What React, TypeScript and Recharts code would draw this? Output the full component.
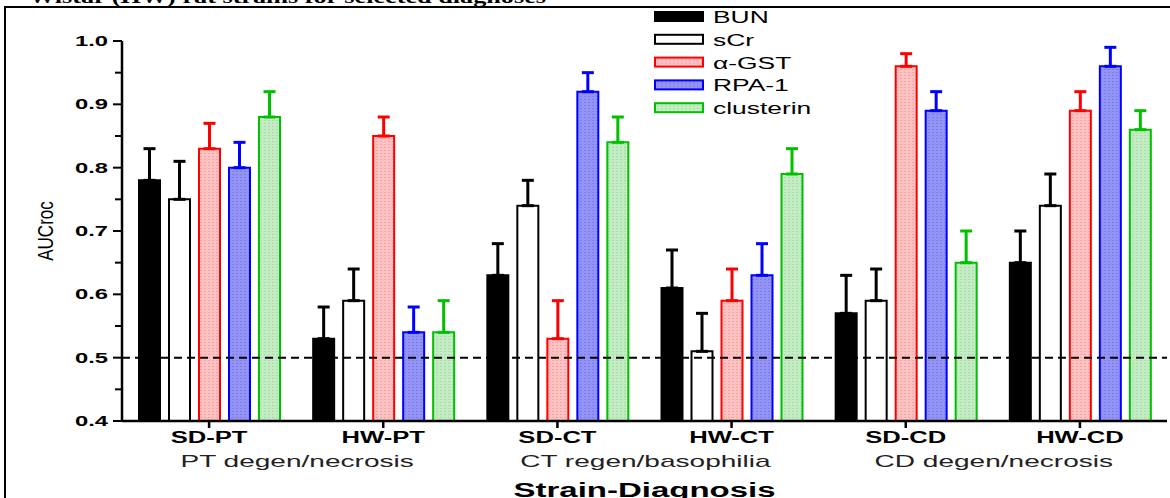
import React from 'react';
import { BarChart, Bar, XAxis, YAxis, ErrorBar, ReferenceLine, Legend, Label } from 'recharts';

// strain-diagnosis groups on the x axis
const categories = ['SD-PT', 'HW-PT', 'SD-CT', 'HW-CT', 'SD-CD', 'HW-CD'];
const groupLabels = ['PT degen/necrosis', 'CT regen/basophilia', 'CD degen/necrosis'];

// AUCroc values and upper error (SEM) per biomarker
const bun = [0.78, 0.53, 0.63, 0.61, 0.57, 0.65];
const bunErr = [0.05, 0.05, 0.05, 0.06, 0.06, 0.05];
const scr = [0.75, 0.59, 0.74, 0.51, 0.59, 0.74];
const scrErr = [0.06, 0.05, 0.04, 0.06, 0.05, 0.05];
const gst = [0.83, 0.85, 0.53, 0.59, 0.96, 0.89];
const gstErr = [0.04, 0.03, 0.06, 0.05, 0.02, 0.03];
const rpa = [0.8, 0.54, 0.92, 0.63, 0.89, 0.96];
const rpaErr = [0.04, 0.04, 0.03, 0.05, 0.03, 0.03];
const clu = [0.88, 0.54, 0.84, 0.79, 0.65, 0.86];
const cluErr = [0.04, 0.05, 0.04, 0.04, 0.05, 0.03];

const yTicks = [0.4, 0.45, 0.5, 0.55, 0.6, 0.65, 0.7, 0.75, 0.8, 0.85, 0.9, 0.95, 1.0];

const data = categories.map((name, i) => ({
  name,
  bun: bun[i], bunE: [0, bunErr[i]],
  scr: scr[i], scrE: [0, scrErr[i]],
  gst: gst[i], gstE: [0, gstErr[i]],
  rpa: rpa[i], rpaE: [0, rpaErr[i]],
  clu: clu[i], cluE: [0, cluErr[i]],
}));

const series = [
  { key: 'bun', err: 'bunE', name: 'BUN', fill: '#000', stroke: '#000', bar: '#000' },
  { key: 'scr', err: 'scrE', name: 'sCr', fill: '#fff', stroke: '#000', bar: '#000' },
  { key: 'gst', err: 'gstE', name: 'α-GST', fill: 'url(#patRed)', stroke: '#ff0000', bar: '#ff0000' },
  { key: 'rpa', err: 'rpaE', name: 'RPA-1', fill: 'url(#patBlue)', stroke: '#0000ff', bar: '#0000ff' },
  { key: 'clu', err: 'cluE', name: 'clusterin', fill: 'url(#patGreen)', stroke: '#00c000', bar: '#00c000' },
];

const SANS = 'Liberation Sans, Arial, sans-serif';
const SX = 1.65; // the figure's text is stretched horizontally

const YTick = (props: any) => {
  const { x, y, payload } = props;
  const major = Math.round(payload.value * 100) % 10 === 0;
  return (
    <g>
      <line x1={x - (major ? 9 : 7)} x2={x} y1={y} y2={y} stroke="#000" strokeWidth={2} />
      {major && (
        <text
          transform={`translate(${x - 14},${y + 5}) scale(1.7,1)`}
          textAnchor="end"
          fontFamily={SANS}
          fontWeight="bold"
          fontSize={14}
          fill="#000"
        >
          {payload.value.toFixed(1)}
        </text>
      )}
    </g>
  );
};

const XTick = (props: any) => {
  const { x, y, payload, index } = props;
  return (
    <g>
      <line x1={x} x2={x} y1={y} y2={y + 7} stroke="#000" strokeWidth={2.5} />
      <text
        transform={`translate(${x},${y + 22}) scale(1.6,1)`}
        textAnchor="middle"
        fontFamily={SANS}
        fontWeight="bold"
        fontSize={16}
        fill="#000"
      >
        {payload.value}
      </text>
      {index % 2 === 0 && (
        <text
          transform={`translate(${x + 88},${y + 46}) scale(${SX},1)`}
          textAnchor="middle"
          fontFamily={SANS}
          fontSize={17}
          fill="#222"
        >
          {groupLabels[index / 2]}
        </text>
      )}
    </g>
  );
};

const LegendBox = () => (
  <svg width={180} height={120}>
    {series.map((s, i) => (
      <g key={s.key} transform={`translate(0,${i * 22.8})`}>
        <rect x={2} y={7} width={48} height={9} fill={s.fill} stroke={s.stroke} strokeWidth={2} />
        <text
          transform={`translate(60,18) scale(${SX},1)`}
          fontFamily={SANS}
          fontSize={16}
          fill="#000"
        >
          {s.name}
        </text>
      </g>
    ))}
  </svg>
);

export default function App() {
  return (
    <div style={{ position: 'absolute', left: 0, top: 0, width: 1170, height: 498, background: '#fff', overflow: 'hidden' }}>
      <svg width={1170} height={10} style={{ position: 'absolute', left: 0, top: 0 }}>
        <text
          x={29}
          y={3}
          textLength={517}
          lengthAdjust="spacingAndGlyphs"
          fontFamily="Liberation Serif, serif"
          fontWeight="bold"
          fontSize={18}
          fill="#000"
        >
          Wistar (HW) rat strains for selected diagnoses
        </text>
      </svg>
      <div style={{ position: 'absolute', left: 5, top: 6, right: 0, height: 2, background: '#000' }} />
      <div style={{ position: 'absolute', left: 4, top: 6, bottom: 0, width: 2, background: '#000' }} />
      <BarChart
        width={1170}
        height={498}
        data={data}
        margin={{ top: 41, right: 3, bottom: 7, left: 62 }}
        barSize={21}
        barGap={9}
        style={{ position: 'absolute', left: 0, top: 0 }}
      >
        <defs>
          <pattern id="patRed" width="4" height="3" patternUnits="userSpaceOnUse">
            <rect width="4" height="3" fill="#ffc2c2" />
            <rect width="2" height="1" fill="#f6a4a4" />
          </pattern>
          <pattern id="patBlue" width="4" height="3" patternUnits="userSpaceOnUse">
            <rect width="4" height="3" fill="#9494f6" />
            <rect width="2" height="1" fill="#7c7cea" />
          </pattern>
          <pattern id="patGreen" width="4" height="3" patternUnits="userSpaceOnUse">
            <rect width="4" height="3" fill="#c4ecc4" />
            <rect width="2" height="1" fill="#a8dca8" />
          </pattern>
        </defs>
        <XAxis
          dataKey="name"
          height={70}
          tickSize={0}
          tickMargin={0}
          tickLine={false}
          axisLine={{ stroke: '#000', strokeWidth: 2.5 }}
          tick={<XTick />}
          interval={0}
        >
          <Label
            content={(p: any) => {
              const vb = p.viewBox;
              return (
                <text
                  transform={`translate(${vb.x + vb.width / 2},${497}) scale(${SX},1)`}
                  textAnchor="middle"
                  fontFamily={SANS}
                  fontWeight="bold"
                  fontSize={20}
                  fill="#000"
                >
                  Strain-Diagnosis
                </text>
              );
            }}
          />
        </XAxis>
        <YAxis
          width={60}
          domain={[0.4, 1.0]}
          ticks={yTicks}
          interval={0}
          allowDataOverflow
          tickSize={0}
          tickMargin={0}
          tickLine={false}
          axisLine={{ stroke: '#000', strokeWidth: 2.5 }}
          tick={<YTick />}
        >
          <Label
            content={() => (
              <text
                transform={`translate(53,231) scale(1.35,1) rotate(-90)`}
                textAnchor="middle"
                fontFamily={SANS}
                fontSize={17}
                fill="#000"
              >
                AUCroc
              </text>
            )}
          />
        </YAxis>
        <Legend
          layout="vertical"
          align="center"
          verticalAlign="middle"
          wrapperStyle={{ left: 653, top: 5, width: 180, height: 120 }}
          content={() => <LegendBox />}
        />
        <ReferenceLine y={0.5} stroke="#000" strokeWidth={2} strokeDasharray="8 5" />
        {series.map((s) => (
          <Bar
            key={s.key}
            dataKey={s.key}
            name={s.name}
            fill={s.fill}
            stroke={s.stroke}
            strokeWidth={2}
            isAnimationActive={false}
          >
            <ErrorBar dataKey={s.err} width={6} stroke={s.bar} strokeWidth={3} direction="y" />
          </Bar>
        ))}
      </BarChart>
    </div>
  );
}
